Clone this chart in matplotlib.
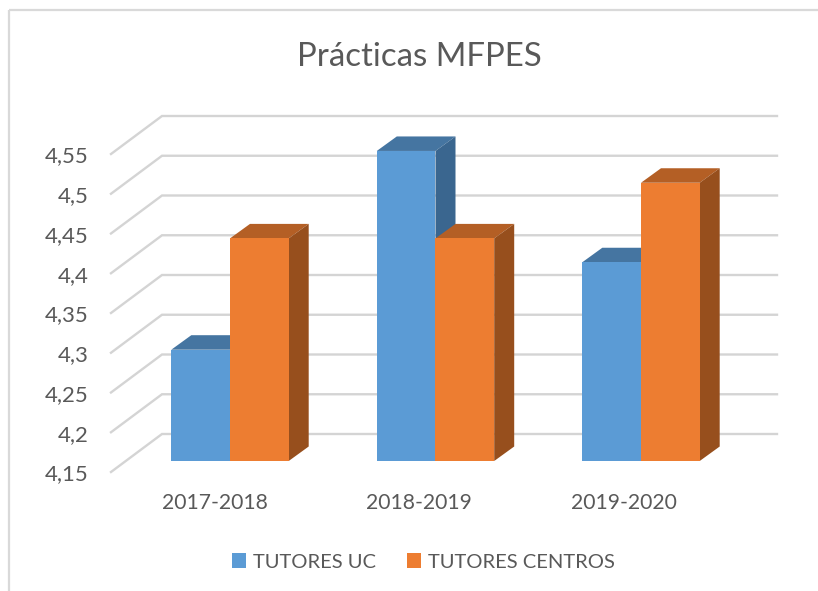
import matplotlib
matplotlib.use("Agg")
import matplotlib.pyplot as plt
from matplotlib.patches import Polygon, Patch

categories = ["2017-2018", "2018-2019", "2019-2020"]
tutores_uc = [4.29, 4.54, 4.40]
tutores_centros = [4.43, 4.43, 4.50]
y_ticks = [4.15, 4.2, 4.25, 4.3, 4.35, 4.4, 4.45, 4.5, 4.55]
y_labels = ["4,15", "4,2", "4,25", "4,3", "4,35", "4,4", "4,45", "4,5", "4,55"]

W, H = 818, 591
BASE = 4.15
PX_PER_Y = 795.0
PX_PER_X = 205.5
X0_PX, Y0_PX = 230.0, 461.0
GRAY = "#595959"
plt.rcParams["font.family"] = ["Lato", "DejaVu Sans"]

fig = plt.figure(figsize=(W / 100, H / 100), dpi=100)
ax = fig.add_axes([0, 0, 1, 1])
ax.set_xlim(-X0_PX / PX_PER_X, (W - X0_PX) / PX_PER_X)
ax.set_ylim(BASE - (H - Y0_PX) / PX_PER_Y, BASE + Y0_PX / PX_PER_Y)
ax.axis("off")

def dx(px):
    return px / PX_PER_X

def dy(px):
    return px / PX_PER_Y

# chart frame (top and left borders visible)
ax.plot([dx(9 - X0_PX), dx(9 - X0_PX)], [ax.get_ylim()[0], BASE + dy(Y0_PX - 10)],
        color="#d9d9d9", lw=1.6, zorder=1, solid_capstyle="butt")
ax.plot([dx(9 - X0_PX), ax.get_xlim()[1]], [BASE + dy(Y0_PX - 10)] * 2,
        color="#d9d9d9", lw=1.6, zorder=1, solid_capstyle="butt")

# gridlines: side-wall diagonal and back wall
wall_front, wall_back, wall_right = dx(111 - X0_PX), dx(162 - X0_PX), dx(777 - X0_PX)
for t, lab in zip(y_ticks, y_labels):
    front_y = t + dy(-11)
    back_y = t + dy(27)
    ax.plot([wall_front, wall_back, wall_right], [front_y, back_y, back_y],
            color="#d4d4d4", lw=1.7, zorder=2, solid_joinstyle="miter")
    ax.text(dx(89 - X0_PX), front_y + dy(-0.5), lab, ha="right", va="center_baseline",
            fontsize=16, color=GRAY)

BAR_W = dx(58.7)
DEPTH_X, DEPTH_Y = dx(20), dy(14.5)

def bar3d(x_left, value, front, top, side, z):
    ax.bar(x_left, value - BASE, BAR_W, bottom=BASE, align="edge", color=front, lw=0, zorder=z + 0.2)
    xr = x_left + BAR_W
    ax.add_patch(Polygon([(x_left, value), (xr, value), (xr + DEPTH_X, value + DEPTH_Y),
                          (x_left + DEPTH_X, value + DEPTH_Y)], closed=True, fc=top, ec="none", zorder=z))
    ax.add_patch(Polygon([(xr, value), (xr + DEPTH_X, value + DEPTH_Y),
                          (xr + DEPTH_X, BASE + DEPTH_Y), (xr, BASE)], closed=True, fc=side, ec="none", zorder=z))

for i, (a, b) in enumerate(zip(tutores_uc, tutores_centros)):
    bar3d(i - BAR_W, a, "#5b9bd5", "#4575a1", "#3a668f", 3 + i)
    bar3d(i, b, "#ed7d31", "#b45f25", "#974f1d", 3.5 + i)
    ax.text(i * 0.994 - dx(15), BASE + dy(-42), categories[i], ha="center", va="center",
            fontsize=15.2, color=GRAY)

ax.text(dx(419 - X0_PX), BASE + dy(Y0_PX - 57), "Prácticas MFPES", ha="center", va="center",
        fontsize=23.8, color=GRAY)

handles = [Patch(fc="#5b9bd5", ec="none"), Patch(fc="#ed7d31", ec="none")]
leg = fig.legend(handles, ["TUTORES UC", "TUTORES CENTROS"], ncol=2, frameon=False,
                 loc="center", bbox_to_anchor=(423.5 / W, 1 - 562 / H), fontsize=14.5,
                 labelcolor=GRAY, handlelength=0.7, handleheight=0.7, handletextpad=0.35,
                 columnspacing=1.5)

fig.savefig("out.png", dpi=100)
